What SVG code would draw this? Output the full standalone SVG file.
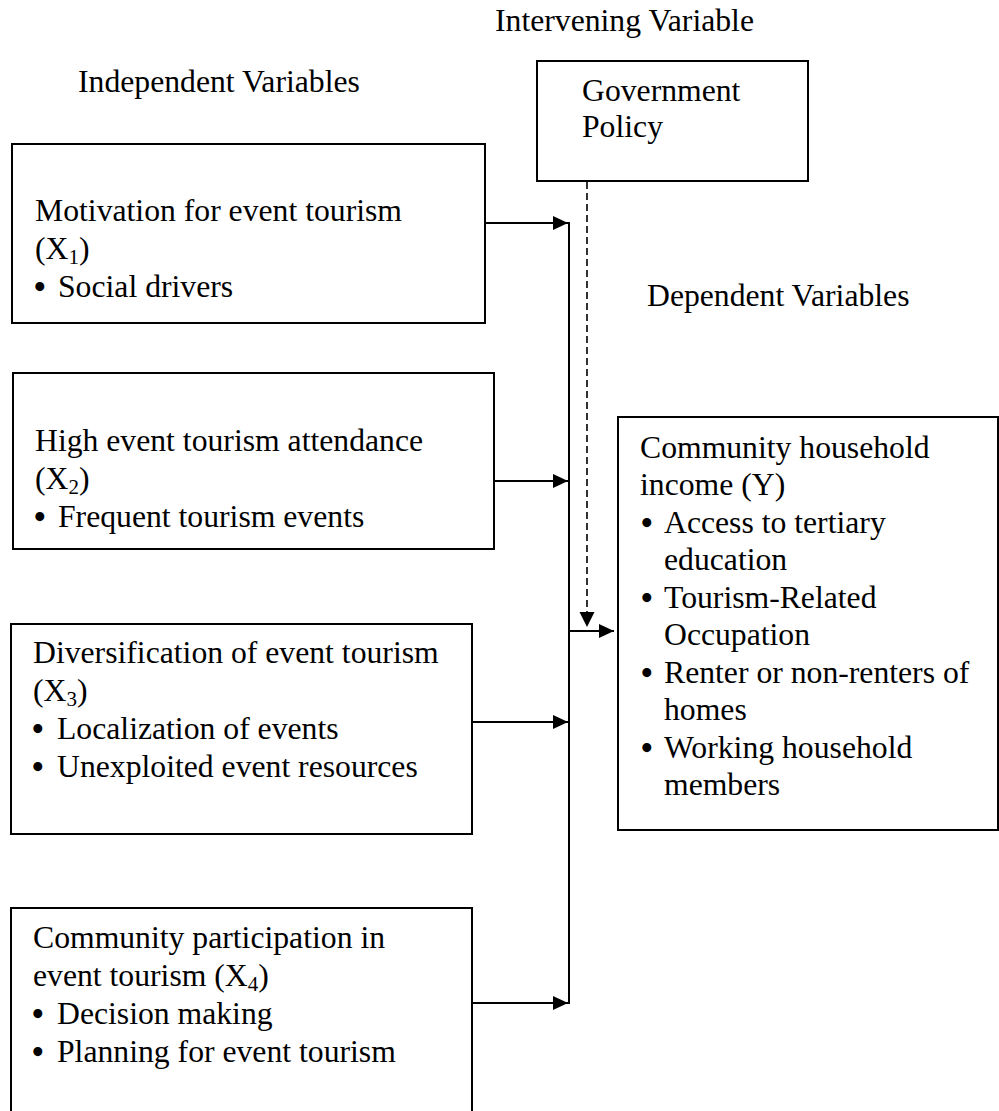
<svg xmlns="http://www.w3.org/2000/svg" width="999" height="1111" viewBox="0 0 999 1111">
<style>
text{font-family:"Liberation Serif","Times New Roman",serif;font-size:31.7px;fill:#000}
.box{fill:#fff;stroke:#000;stroke-width:2}
.ln{fill:none;stroke:#000;stroke-width:2}
.dash{fill:none;stroke:#000;stroke-width:1.6;stroke-dasharray:7 4}
.sub{font-size:21px}
text.b{font-size:33px;font-weight:bold}
</style>
<defs>
<marker id="ah" markerUnits="userSpaceOnUse" markerWidth="16" markerHeight="14" refX="15" refY="7" orient="auto">
<path d="M0,0 L15,7 L0,14 Z" fill="#000"/>
</marker>
</defs>
<rect width="999" height="1111" fill="#fff"/>

<g id="labels">
<text x="495" y="31">Intervening Variable</text>
<text x="78" y="92">Independent Variables</text>
<text x="647" y="306">Dependent Variables</text>
</g>

<g id="gov">
<rect class="box" x="537" y="61" width="271" height="120"/>
<text x="582" y="101">Government</text>
<text x="582" y="137">Policy</text>
</g>

<g id="x1">
<rect class="box" x="12" y="144" width="473" height="179"/>
<text x="35" y="221">Motivation for event tourism</text>
<text x="35" y="259">(X<tspan class="sub" dy="5">1</tspan><tspan dy="-5">)</tspan></text>
<text class="b" x="34" y="298">•</text><text x="58" y="297">Social drivers</text>
</g>

<g id="x2">
<rect class="box" x="13" y="373" width="481" height="176"/>
<text x="35" y="451">High event tourism attendance</text>
<text x="35" y="489">(X<tspan class="sub" dy="5">2</tspan><tspan dy="-5">)</tspan></text>
<text class="b" x="34" y="528">•</text><text x="58" y="527">Frequent tourism events</text>
</g>

<g id="x3">
<rect class="box" x="11" y="624" width="461" height="210"/>
<text x="33" y="663">Diversification of event tourism</text>
<text x="33" y="701">(X<tspan class="sub" dy="5">3</tspan><tspan dy="-5">)</tspan></text>
<text class="b" x="32" y="740">•</text><text x="57" y="739">Localization of events</text>
<text class="b" x="32" y="778">•</text><text x="57" y="777">Unexploited event resources</text>
</g>

<g id="x4">
<rect class="box" x="11" y="908" width="461" height="220"/>
<text x="33" y="948">Community participation in</text>
<text x="33" y="986">event tourism (X<tspan class="sub" dy="5">4</tspan><tspan dy="-5">)</tspan></text>
<text class="b" x="32" y="1025">•</text><text x="57" y="1024">Decision making</text>
<text class="b" x="32" y="1063">•</text><text x="57" y="1062">Planning for event tourism</text>
</g>

<g id="y">
<rect class="box" x="618" y="417" width="380" height="413"/>
<text x="640" y="458">Community household</text>
<text x="640" y="495">income (Y)</text>
<text class="b" x="641" y="534">•</text><text x="664" y="533">Access to tertiary</text>
<text x="664" y="570">education</text>
<text class="b" x="641" y="609">•</text><text x="664" y="608">Tourism-Related</text>
<text x="664" y="645">Occupation</text>
<text class="b" x="641" y="684">•</text><text x="664" y="683">Renter or non-renters of</text>
<text x="664" y="720">homes</text>
<text class="b" x="641" y="759">•</text><text x="664" y="758">Working household</text>
<text x="664" y="795">members</text>
</g>

<g id="connectors">
<line class="ln" x1="485" y1="223" x2="568" y2="223" marker-end="url(#ah)"/>
<line class="ln" x1="494" y1="481" x2="568" y2="481" marker-end="url(#ah)"/>
<line class="ln" x1="472" y1="722" x2="568" y2="722" marker-end="url(#ah)"/>
<line class="ln" x1="472" y1="1003" x2="568" y2="1003" marker-end="url(#ah)"/>
<line class="ln" x1="569" y1="222" x2="569" y2="1004"/>
<line class="ln" x1="569" y1="631" x2="614" y2="631" marker-end="url(#ah)"/>
<line class="dash" x1="587" y1="182" x2="587" y2="613"/>
<path d="M579.5,612 L594.5,612 L587,627 Z" fill="#000"/>
</g>
</svg>
